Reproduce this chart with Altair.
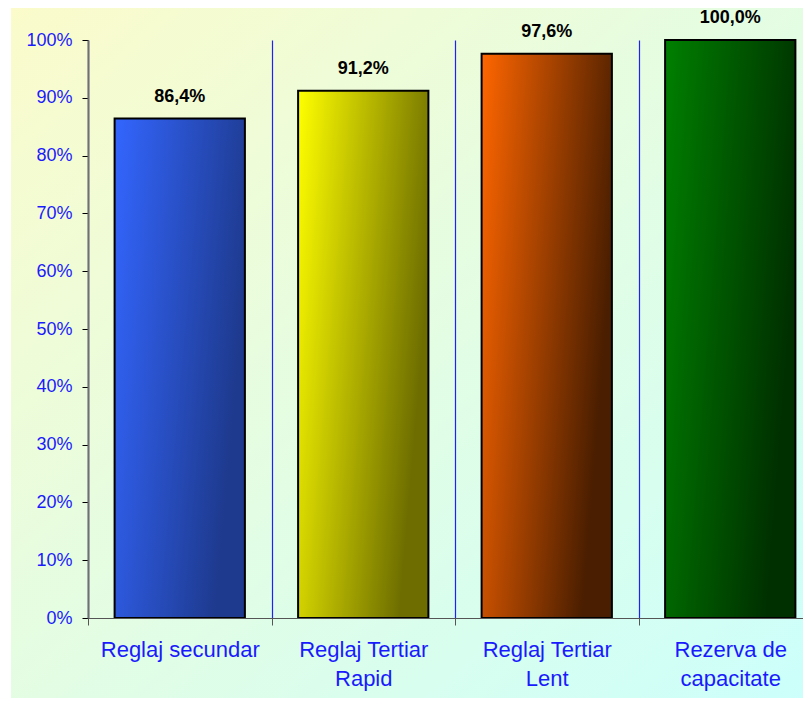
import altair as alt
import pandas as pd

categories = ["Reglaj secundar", "Reglaj Tertiar\nRapid", "Reglaj Tertiar\nLent", "Rezerva de\ncapacitate"]
values = [86.4, 91.2, 97.6, 100.0]
value_labels = ["86,4%", "91,2%", "97,6%", "100,0%"]
y_ticks = [0, 10, 20, 30, 40, 50, 60, 70, 80, 90, 100]

bar_colors = [
    ("#3366FF", "#1E3A8E"),
    ("#FFFF00", "#6E6E00"),
    ("#FF6600", "#4A1E00"),
    ("#008000", "#003000"),
]

FONT = "Liberation Sans, Arial, sans-serif"
W, H = 715, 578

df = pd.DataFrame({"cat": categories, "val": values, "label": value_labels})

x_scale = alt.Scale(domain=categories, range=[0, 734], paddingInner=0, paddingOuter=0)
y_scale = alt.Scale(domain=[0, 100], nice=False)

x_axis = alt.Axis(
    title=None, labelAngle=0, labelColor="#1a1aff", labelFontSize=22, labelFont=FONT,
    labelExpr="split(datum.label, '\\n')", labelLineHeight=29,
    tickBand="extent", tickSize=7, tickColor="#555555", domainColor="#555555",
    grid=True, gridColor="#2020ff", gridWidth=1.2, gridOpacity=1, labelPadding=14, zindex=1,
)
y_axis = alt.Axis(
    title=None, values=y_ticks, labelExpr="datum.value + '%'", labelColor="#1a1aff",
    labelFontSize=18, labelFont=FONT, tickSize=6, tickColor="#000000",
    domainColor="#707070", domainWidth=2, grid=False, labelPadding=10, zindex=1,
)

bg = alt.Chart(pd.DataFrame({"k": [0]})).mark_rect(
    fill=alt.Gradient(
        gradient="linear",
        stops=[alt.GradientStop(color="#FBFBCB", offset=0),
               alt.GradientStop(color="#CCFFFB", offset=1)],
        x1=0, y1=0, x2=1, y2=1,
    )
).encode(x=alt.value(-77), x2=alt.value(W), y=alt.value(-32), y2=alt.value(H + 80))

bars = []
for i, cat in enumerate(categories):
    c0, c1 = bar_colors[i]
    bar = alt.Chart(df).transform_filter(
        alt.datum.cat == cat
    ).mark_bar(
        fill=alt.Gradient(
            gradient="linear",
            stops=[alt.GradientStop(color=c0, offset=0), alt.GradientStop(color=c1, offset=1)],
            x1=0, y1=0, x2=1, y2=0.35,
        ),
        stroke="#000000", strokeWidth=2,
        width=alt.RelativeBandSize(band=0.71),
    ).encode(
        x=alt.X("cat:N", scale=x_scale, axis=x_axis, sort=categories),
        y=alt.Y("val:Q", scale=y_scale, axis=y_axis),
    )
    bars.append(bar)

text = alt.Chart(df).mark_text(
    font=FONT, fontSize=18, fontWeight="bold", color="#000000", baseline="alphabetic", dy=-17
).encode(
    x=alt.X("cat:N", scale=x_scale, axis=x_axis, sort=categories),
    y=alt.Y("val:Q", scale=y_scale, axis=y_axis),
    text="label:N",
)

chart = alt.layer(bg, *bars, text).properties(
    width=W, height=H,
    autosize=alt.AutoSizeParams(type="none"),
    padding={"left": 80, "top": 32, "right": 0, "bottom": 80},
).configure_view(stroke=None).configure(background="white")

chart.save("out.html", embed_options={"renderer": "svg", "actions": False})
